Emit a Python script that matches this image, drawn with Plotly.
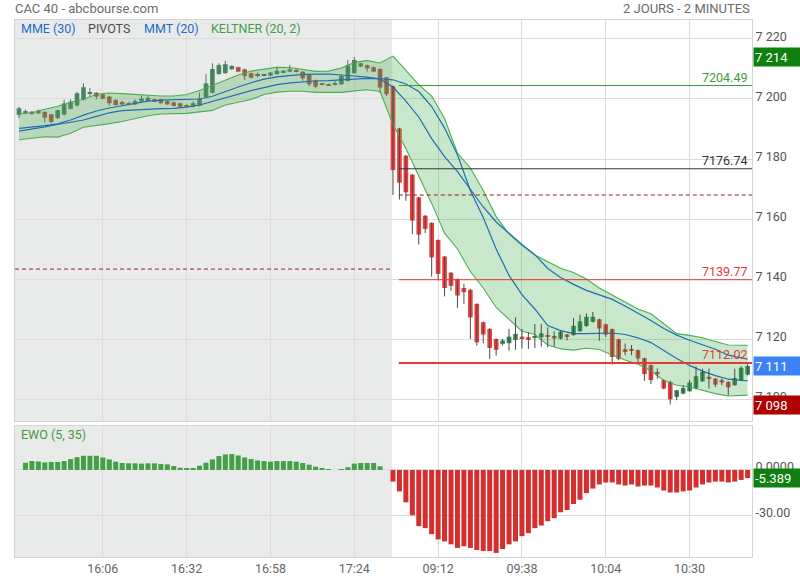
import plotly.graph_objects as go

# ---------------- data ----------------
N_DAY1 = 58  # number of 2-minute bars of the previous session shown

open_ = [7194.7, 7195.5, 7195.8, 7195.2, 7195.7, 7194.9, 7193.6, 7194.8, 7196.7, 7197.8,
         7199.8, 7201.8, 7202.1, 7201.5, 7200.8, 7199.7, 7199.0, 7198.7, 7198.2, 7199.1,
         7199.3, 7199.9, 7199.9, 7199.3, 7198.9, 7198.6, 7198.0, 7197.4, 7197.7, 7200.6,
         7202.1, 7208.3, 7208.6, 7209.9, 7210.6, 7209.9, 7208.6, 7208.0, 7208.0, 7207.8,
         7208.3, 7208.9, 7209.1, 7209.7, 7209.1, 7208.0, 7206.3, 7205.2, 7204.9, 7204.7,
         7204.9, 7206.0, 7208.6, 7210.8, 7211.3, 7210.6, 7210.0, 7207.2,
         7204.3, 7190.2, 7181.1, 7174.8, 7167.2, 7161.1, 7158.7, 7153.0, 7147.5, 7142.1,
         7140.0, 7137.0, 7136.4, 7131.7, 7125.6, 7123.4, 7120.0, 7118.4, 7118.6, 7119.7,
         7120.8, 7120.6, 7120.4, 7120.6, 7121.2, 7121.0, 7120.1, 7121.5, 7121.3, 7122.6,
         7124.3, 7125.7, 7126.6, 7124.9, 7123.3, 7119.9, 7116.6, 7116.3, 7116.3, 7113.6,
         7111.3, 7109.0, 7106.3, 7105.7, 7100.7, 7101.8, 7102.6, 7103.7, 7105.9, 7107.4,
         7106.8, 7106.3, 7105.7, 7104.6, 7106.3, 7108.1]
high_ = [7197.4, 7196.5, 7196.0, 7196.5, 7195.9, 7195.0, 7196.5, 7199.7, 7199.9, 7202.4,
         7205.2, 7203.6, 7202.3, 7201.7, 7201.0, 7199.9, 7199.4, 7198.9, 7199.9, 7201.0,
         7200.9, 7200.1, 7200.1, 7199.5, 7199.1, 7198.8, 7198.2, 7199.2, 7202.1, 7208.3,
         7211.9, 7211.9, 7212.7, 7211.3, 7210.8, 7210.1, 7208.8, 7208.8, 7208.2, 7209.0,
         7210.6, 7209.6, 7211.3, 7209.9, 7209.3, 7208.2, 7206.5, 7205.4, 7205.1, 7206.0,
         7208.3, 7213.0, 7214.0, 7212.1, 7211.5, 7210.8, 7210.2, 7207.4,
         7204.5, 7190.4, 7181.3, 7175.0, 7167.4, 7161.3, 7158.9, 7153.2, 7147.7, 7142.3,
         7140.2, 7138.4, 7136.6, 7131.9, 7125.8, 7123.6, 7120.2, 7120.0, 7123.3, 7127.2,
         7123.3, 7122.3, 7125.0, 7125.0, 7123.9, 7122.5, 7123.0, 7121.7, 7127.0, 7128.1,
         7128.5, 7129.0, 7126.8, 7125.1, 7123.5, 7120.1, 7118.5, 7118.0, 7116.5, 7113.8,
         7111.5, 7110.2, 7106.5, 7106.1, 7103.1, 7104.6, 7106.3, 7110.9, 7110.1, 7110.1,
         7107.0, 7106.8, 7105.9, 7110.1, 7111.0, 7111.8]
low_ = [7193.6, 7194.9, 7194.8, 7195.0, 7192.1, 7191.9, 7193.3, 7194.5, 7196.5, 7197.5,
        7199.5, 7200.8, 7199.9, 7200.0, 7197.7, 7197.8, 7197.9, 7197.9, 7198.0, 7198.9,
        7199.1, 7199.1, 7198.4, 7198.0, 7197.5, 7197.2, 7197.2, 7197.2, 7197.5, 7200.4,
        7201.9, 7208.1, 7208.4, 7209.7, 7208.9, 7206.3, 7206.9, 7207.2, 7207.8, 7207.6,
        7208.1, 7208.7, 7208.9, 7208.9, 7206.1, 7204.3, 7203.6, 7204.5, 7204.5, 7204.5,
        7204.7, 7205.8, 7208.4, 7210.6, 7209.1, 7208.9, 7201.9, 7201.0,
        7168.0, 7166.5, 7166.1, 7155.0, 7151.5, 7155.3, 7140.8, 7139.5, 7134.2, 7136.1,
        7130.4, 7131.7, 7120.0, 7117.8, 7118.6, 7113.4, 7114.5, 7117.8, 7116.1, 7116.4,
        7116.8, 7116.7, 7117.0, 7117.5, 7117.2, 7117.5, 7119.8, 7119.6, 7121.1, 7122.4,
        7124.1, 7125.5, 7119.4, 7120.7, 7111.5, 7112.9, 7114.6, 7114.6, 7112.4, 7106.1,
        7105.0, 7106.8, 7103.2, 7098.2, 7099.6, 7101.6, 7102.4, 7103.3, 7105.7, 7103.5,
        7104.0, 7104.6, 7101.3, 7104.4, 7106.1, 7107.9]
close_ = [7196.9, 7195.8, 7195.2, 7196.1, 7193.8, 7192.4, 7196.3, 7198.5, 7199.1, 7201.9,
          7203.9, 7202.3, 7200.8, 7200.1, 7198.6, 7198.0, 7198.2, 7198.0, 7199.3, 7200.2,
          7200.4, 7199.3, 7198.6, 7198.2, 7197.7, 7197.4, 7197.4, 7198.6, 7200.2, 7205.2,
          7210.0, 7211.3, 7211.6, 7211.0, 7209.1, 7207.7, 7207.1, 7208.0, 7208.0, 7208.8,
          7209.4, 7209.4, 7209.9, 7209.1, 7206.9, 7204.9, 7204.1, 7204.7, 7204.7, 7205.2,
          7207.7, 7211.1, 7213.0, 7211.9, 7210.2, 7209.1, 7203.8, 7201.6,
          7176.3, 7172.1, 7168.9, 7159.5, 7154.8, 7156.7, 7147.2, 7141.7, 7137.0, 7137.7,
          7134.5, 7135.6, 7127.2, 7118.9, 7121.5, 7117.0, 7116.4, 7119.5, 7120.8, 7121.7,
          7120.0, 7120.0, 7121.0, 7121.9, 7120.7, 7120.2, 7122.4, 7121.0, 7124.4, 7125.9,
          7127.4, 7127.4, 7123.5, 7121.5, 7114.0, 7113.3, 7115.7, 7116.1, 7113.5, 7108.3,
          7106.3, 7108.3, 7103.5, 7099.9, 7102.9, 7103.7, 7105.5, 7107.6, 7109.0, 7106.8,
          7104.8, 7105.5, 7103.9, 7107.0, 7110.4, 7111.0]

ewo = [None, 4.8, 5.9, 5.6, 5.0, 5.3, 5.3, 5.9, 7.2, 8.5,
       9.4, 9.4, 9.4, 8.3, 7.0, 5.5, 4.6, 4.4, 4.4, 4.2,
       4.4, 4.4, 4.0, 3.7, 2.6, 1.5, 1.1, 1.1, 2.8, 4.8,
       7.0, 9.2, 10.3, 10.5, 9.6, 8.3, 7.2, 6.3, 5.9, 5.5,
       5.9, 5.9, 5.9, 5.5, 4.6, 3.5, 2.2, 1.1, 0.4, 0.0,
       0.4, 1.8, 4.2, 4.6, 4.6, 4.6, 2.4, 0.0,
       -7.7, -14.2, -21.4, -30.0, -37.2, -38.5, -42.5, -46.0, -47.3, -49.2,
       -51.6, -50.5, -51.6, -53.0, -53.6, -53.6, -54.9, -52.3, -49.2, -47.3,
       -43.8, -41.8, -38.5, -36.8, -33.9, -31.9, -28.0, -26.5, -22.5, -19.7,
       -15.3, -12.3, -9.6, -8.3, -8.3, -9.6, -10.3, -9.6, -10.9, -10.3,
       -10.3, -11.6, -13.6, -14.9, -14.9, -14.2, -13.6, -11.6, -9.6, -8.3,
       -7.7, -7.7, -8.3, -7.7, -6.6, -5.389]

# indicator lines, read every second bar (plus the last bar)
line_bars = list(range(0, 113, 2)) + [113]
keltner_up = [7195.1, 7195.4, 7196.6, 7197.6, 7198.9, 7199.9, 7201.6, 7202.0, 7201.8, 7201.5,
              7201.1, 7201.0, 7201.0, 7201.5, 7202.8, 7204.6, 7206.4, 7208.0, 7209.3, 7210.0,
              7210.6, 7210.5, 7209.8, 7209.2, 7209.3, 7210.3, 7212.2, 7212.8, 7212.0, 7214.3,
              7209.5, 7204.8, 7201.0, 7193.5, 7182.0, 7177.0, 7169.5, 7160.8, 7155.0, 7151.2,
              7148.0, 7145.8, 7143.6, 7142.2, 7140.0, 7137.0, 7134.6, 7132.4, 7130.0, 7128.4,
              7125.2, 7121.8, 7121.2, 7120.4, 7119.2, 7118.0, 7117.9, 7117.9]
keltner_low = [7186.4, 7186.9, 7187.4, 7187.3, 7188.6, 7190.6, 7191.1, 7191.8, 7192.5, 7193.5,
               7194.4, 7195.0, 7195.2, 7195.2, 7195.7, 7196.2, 7198.0, 7199.0, 7199.8, 7201.5,
               7202.3, 7202.6, 7202.6, 7202.2, 7202.1, 7202.2, 7202.7, 7203.1, 7202.5, 7191.5,
               7183.5, 7174.2, 7165.2, 7155.3, 7150.0, 7142.5, 7137.0, 7130.5, 7126.4, 7122.6,
               7121.5, 7118.0, 7116.7, 7116.3, 7116.9, 7116.5, 7114.7, 7113.0, 7111.6, 7109.4,
               7106.2, 7104.6, 7104.0, 7102.9, 7101.8, 7101.0, 7101.1, 7101.3]
mme30 = [7190.2, 7190.6, 7191.1, 7191.7, 7193.0, 7194.6, 7196.0, 7197.0, 7197.8, 7198.6,
         7199.3, 7199.6, 7199.7, 7199.7, 7200.0, 7200.9, 7202.5, 7204.0, 7205.4, 7206.6,
         7207.4, 7207.9, 7208.2, 7208.3, 7208.3, 7208.0, 7207.6, 7207.3, 7206.6, 7204.0,
         7199.3, 7194.0, 7186.8, 7180.8, 7175.8, 7170.0, 7164.0, 7159.0, 7155.2, 7151.5,
         7148.1, 7143.5, 7140.5, 7138.2, 7136.2, 7134.6, 7133.2, 7131.0, 7128.6, 7126.2,
         7123.5, 7121.3, 7119.6, 7118.2, 7116.6, 7114.6, 7113.6, 7113.3]
mmt20 = [7189.3, 7189.9, 7190.7, 7191.5, 7192.3, 7193.0, 7194.2, 7195.4, 7196.1, 7196.4,
         7196.6, 7196.8, 7196.9, 7197.3, 7198.0, 7199.2, 7200.6, 7201.8, 7202.8, 7203.8,
         7204.8, 7205.4, 7205.8, 7206.0, 7206.1, 7206.4, 7206.7, 7206.9, 7206.8, 7206.4,
         7205.0, 7202.5, 7197.5, 7190.3, 7181.4, 7169.5, 7160.5, 7150.0, 7141.2, 7134.8,
         7130.0, 7124.5, 7122.8, 7121.8, 7121.8, 7121.9, 7122.0, 7121.5, 7120.4, 7118.8,
         7116.2, 7113.5, 7111.2, 7109.3, 7107.8, 7106.6, 7106.2, 7106.1]

pivot_levels = [7204.49, 7176.74, 7139.77, 7112.02]
pivot_colors = ["#3d9a3d", "#333333", "#e53935", "#e53935"]
pivot_widths = [1, 1, 1, 2]
prev_level = 7143.3      # dashed level over the previous session
cur_level = 7168.0       # dashed level over the current session

tick_bars = [13, 26, 39, 52, 65, 78, 91, 104]
tick_labels = ["16:06", "16:32", "16:58", "17:24", "09:12", "09:38", "10:04", "10:30"]
price_ticks = [7100, 7120, 7140, 7160, 7180, 7200, 7220]
price_tick_text = ["7 100", "7 120", "7 140", "7 160", "7 180", "7 200", "7 220"]
ewo_ticks = [0, -30]
ewo_tick_text = ["0.0000", "-30.00"]

tag_high, tag_last, tag_low = 7214, 7111, 7098
tag_ewo = -5.389

# ---------------- styling ----------------
XMIN, XMAX = -0.62, 113.68
GRID = "#dcdcdc"
BORDER = "#d4d4d4"
FONT = "Roboto"
n = len(open_)
bars = list(range(n))
boundary = N_DAY1 - 0.13

fig = go.Figure()

# Keltner band
fig.add_trace(go.Scatter(x=line_bars, y=keltner_low, mode="lines",
                         line=dict(color="#4caf50", width=1.1), hoverinfo="skip"))
fig.add_trace(go.Scatter(x=line_bars, y=keltner_up, mode="lines", fill="tonexty",
                         fillcolor="rgba(76,175,80,0.30)",
                         line=dict(color="#4caf50", width=1.1), hoverinfo="skip"))
# moving averages
fig.add_trace(go.Scatter(x=line_bars, y=mme30, mode="lines",
                         line=dict(color="#1f6fb2", width=1.2), hoverinfo="skip"))
fig.add_trace(go.Scatter(x=line_bars, y=mmt20, mode="lines",
                         line=dict(color="#1f6fb2", width=1.2), hoverinfo="skip"))

# wicks
for lo_i, hi_i, col in [(0, N_DAY1, "#6a6a6a"), (N_DAY1, n, "#4a4a4a")]:
    wx, wy = [], []
    for i in range(lo_i, hi_i):
        wx += [i, i, None]
        wy += [low_[i], high_[i], None]
    fig.add_trace(go.Scatter(x=wx, y=wy, mode="lines", line=dict(color=col, width=1),
                             hoverinfo="skip"))

# bodies
base, height, colors = [], [], []
for i in range(n):
    o, c = open_[i], close_[i]
    base.append(min(o, c) if abs(c - o) >= 0.3 else (o + c) / 2 - 0.15)
    height.append(max(abs(c - o), 0.3))
    day1 = i < N_DAY1
    if c > o:
        colors.append("#3f8c5f" if day1 else "#2e8b57")
    elif c < o:
        colors.append("#b5523e" if day1 else "#f23b3b")
    else:
        colors.append("#5a5a5a")
fig.add_trace(go.Bar(x=bars, y=height, base=base, width=0.72, marker=dict(color=colors, line=dict(width=0)),
                     hoverinfo="skip"))

# EWO histogram
ewo_colors = ["#43a047" if (v is not None and v >= 0) else "#d32f2f" for v in ewo]
fig.add_trace(go.Bar(x=bars, y=ewo, width=0.78, marker=dict(color=ewo_colors, line=dict(width=0)),
                     xaxis="x2", yaxis="y2", hoverinfo="skip"))

shapes = []
# previous-session shading (both panes)
for yr in ["y domain", "y2 domain"]:
    shapes.append(dict(type="rect", xref="x", yref=yr, x0=XMIN, x1=boundary, y0=0, y1=1,
                       fillcolor="#e9eaea", line=dict(width=0), layer="below"))
# pivot lines
for lvl, col, w in zip(pivot_levels, pivot_colors, pivot_widths):
    shapes.append(dict(type="line", xref="x", yref="y", x0=N_DAY1 + 0.9, x1=XMAX, y0=lvl, y1=lvl,
                       line=dict(color=col, width=w), layer="above"))
shapes.append(dict(type="line", xref="x", yref="y", x0=XMIN, x1=boundary, y0=prev_level, y1=prev_level,
                   line=dict(color="#a11d1d", width=1, dash="4px,3px"), layer="above"))
shapes.append(dict(type="line", xref="x", yref="y", x0=N_DAY1 + 0.9, x1=XMAX, y0=cur_level, y1=cur_level,
                   line=dict(color="#a11d1d", width=1, dash="4px,3px"), layer="above"))

annotations = []
# pivot labels
for lvl, col in zip(pivot_levels, pivot_colors):
    annotations.append(dict(x=1, xref="paper", xanchor="right", xshift=-3, y=lvl, yref="y",
                            yanchor="bottom", yshift=-1, text=f"{lvl:.2f}", showarrow=False,
                            font=dict(family=FONT, size=12.5, color=col)))
# value tags on the right
for val, txt, bg, yr in [(tag_high, "7 214", "#0f7f0f", "y"), (tag_last, "7 111", "#3b82f6", "y"),
                         (tag_low, "7 098", "#b00000", "y"), (tag_ewo, f"{tag_ewo:.3f}", "#0f7f0f", "y2")]:
    annotations.append(dict(x=1, xref="paper", xanchor="left", xshift=0.5, y=val, yref=yr, yanchor="middle",
                            text=txt, showarrow=False, bgcolor=bg, width=46, height=16, align="left",
                            borderpad=1, font=dict(family=FONT, size=13, color="white")))
# header texts
PLOT_H = 580 - 20 - 23
def py(v):
    return (557 - v) / PLOT_H
def px(v):
    return (v - 15) / 737
annotations.append(dict(x=px(13), y=py(9), xref="paper", yref="paper", xanchor="left", yanchor="middle",
                        text="CAC 40 - abcbourse.com", showarrow=False,
                        font=dict(family=FONT, size=13, color="#6b6b6b")))
annotations.append(dict(x=px(752), y=py(9), xref="paper", yref="paper", xanchor="right", yanchor="middle",
                        text="2 JOURS - 2 MINUTES", showarrow=False,
                        font=dict(family=FONT, size=13, color="#6b6b6b")))
for x0, txt, col in [(19, "MME (30)", "#1e6cc8"), (86, "PIVOTS", "#4a4a4a"),
                     (142, "MMT (20)", "#1e6cc8"), (209, "KELTNER (20, 2)", "#43a047")]:
    annotations.append(dict(x=px(x0), y=py(28.5), xref="paper", yref="paper", xanchor="left",
                            yanchor="middle", text=txt, showarrow=False,
                            font=dict(family=FONT, size=12.5, color=col)))
annotations.append(dict(x=px(19), y=py(434), xref="paper", yref="paper", xanchor="left", yanchor="middle",
                        text="EWO (5, 35)", showarrow=False, font=dict(family=FONT, size=12.5, color="#3f9a3f")))

main_bottom = (557 - 421) / PLOT_H
ewo_top = (557 - 426) / PLOT_H

axis_common = dict(showgrid=True, gridcolor=GRID, gridwidth=1, zeroline=False, showline=True,
                   mirror=True, linecolor=BORDER, linewidth=1, ticks="", automargin=False)
fig.update_layout(
    width=800, height=580,
    margin=dict(l=15, r=48, t=20, b=23),
    paper_bgcolor="white", plot_bgcolor="white",
    showlegend=False, barmode="overlay",
    font=dict(family=FONT, size=12, color="#555555"),
    xaxis=dict(domain=[0, 1], anchor="y", range=[XMIN, XMAX], tickvals=tick_bars,
               showticklabels=False, **axis_common),
    xaxis2=dict(domain=[0, 1], anchor="y2", range=[XMIN, XMAX], matches="x", tickvals=tick_bars,
                ticktext=tick_labels, tickfont=dict(family=FONT, size=12.5, color="#666666"), **axis_common),
    yaxis=dict(domain=[main_bottom, 1], anchor="x", side="right", range=[7092.67, 7226.33],
               tickvals=price_ticks, ticktext=price_tick_text, ticklabelshift=-2,
               tickfont=dict(family=FONT, size=12.5, color="#555555"), **axis_common),
    yaxis2=dict(domain=[0, ewo_top], anchor="x2", side="right", range=[-57.6, 29.1],
                tickvals=ewo_ticks, ticktext=ewo_tick_text, ticklabelshift=-3,
                tickfont=dict(family=FONT, size=12.5, color="#555555"), **axis_common),
    shapes=shapes, annotations=annotations,
)

fig.write_html("out.html", config={"displayModeBar": False},
               post_script="document.body.style.margin='0px';")
